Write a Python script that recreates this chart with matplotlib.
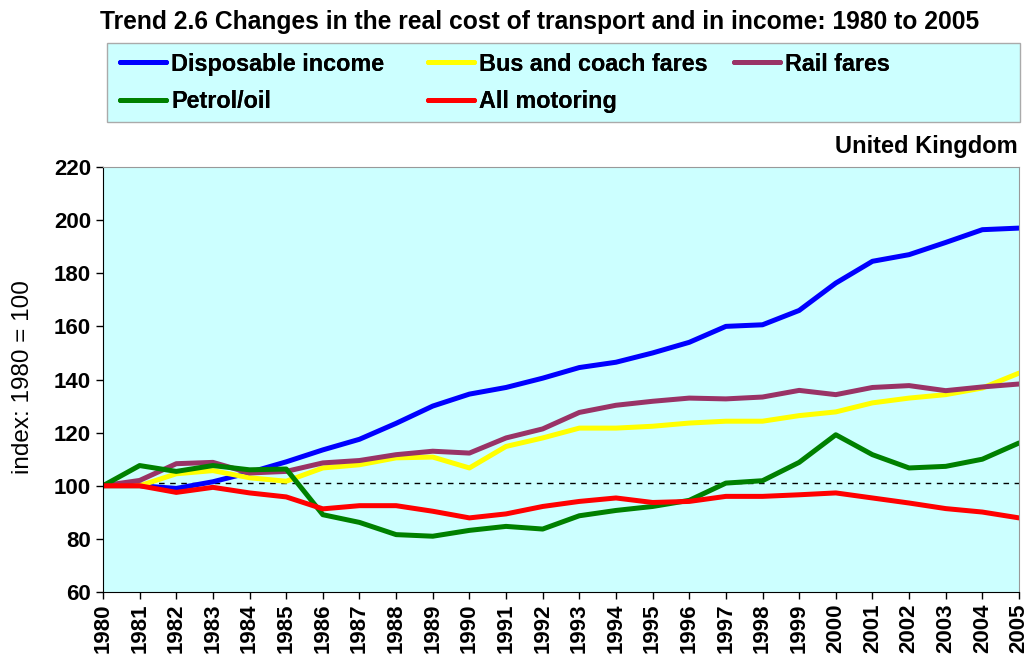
import matplotlib
matplotlib.use("Agg")
import matplotlib.pyplot as plt
from matplotlib.patches import Rectangle

plt.rcParams['font.family'] = ['Liberation Sans', 'DejaVu Sans']

years = list(range(1980, 2006))
disposable_income = [100, 100, 99, 101.5, 105, 109, 113.5, 117.5, 123.5, 130, 134.5, 137, 140.5,
                     144.5, 146.5, 150, 154, 160, 160.6, 166, 176.3, 184.5, 187, 191.6, 196.4, 197]
bus_coach = [100, 100, 104.5, 105.7, 103, 101.7, 106.7, 107.9, 110.5, 110.8, 106.7, 114.8, 118,
             121.7, 121.7, 122.4, 123.6, 124.3, 124.3, 126.4, 127.8, 131.2, 133, 134.3, 136.8, 142.4]
rail_fares = [100, 102, 108.3, 108.8, 104.8, 105.4, 108.6, 109.5, 111.7, 113, 112.3, 118, 121.4,
              127.6, 130.3, 131.8, 133, 132.7, 133.4, 135.9, 134.3, 137, 137.7, 135.8, 137.2, 138.3]
petrol_oil = [100, 107.6, 105.4, 107.6, 106, 106.3, 89.1, 86.2, 81.6, 81, 83.2, 84.7, 83.7,
              88.7, 90.7, 92.2, 94.5, 101, 101.9, 108.8, 119.2, 111.7, 106.7, 107.3, 110, 116.1]
all_motoring = [100, 100, 97.5, 99.4, 97.3, 95.8, 91.3, 92.5, 92.5, 90.4, 87.9, 89.4, 92.2,
                94.1, 95.4, 93.7, 94.1, 96, 96, 96.6, 97.3, 95.4, 93.5, 91.4, 90.1, 87.9]

series = [
    ("Disposable income", disposable_income, "#0000FF"),
    ("Bus and coach fares", bus_coach, "#FFFF00"),
    ("Rail fares", rail_fares, "#993366"),
    ("Petrol/oil", petrol_oil, "#008000"),
    ("All motoring", all_motoring, "#FF0000"),
]

W, H = 1029, 659
bg = "#CCFFFF"
fig = plt.figure(figsize=(W / 100, H / 100), dpi=100)
ax = fig.add_axes([103 / W, 1 - 592 / H, 916 / W, 425 / H])
ax.set_facecolor(bg)

handles = {}
for name, vals, col in series:
    h, = ax.plot(years, vals, color=col, lw=3.6, label=name, solid_capstyle="round")
    handles[name] = h

ax.axhline(101, color="black", lw=1, ls=(0, (4, 4)), zorder=1.5)

ax.set_xlim(1980, 2005)
ax.set_ylim(60, 220)
ax.set_xticks(years)
ax.set_xticklabels([str(y) for y in years], rotation=90, fontsize=16, fontweight="bold")
ax.set_yticks(range(60, 221, 20))
ax.set_yticklabels([str(v) for v in range(60, 221, 20)], fontsize=16, fontweight="bold")
ax.tick_params(direction="out", length=5, width=1)
ax.set_ylabel("index: 1980 = 100", fontsize=17.5)
ax.yaxis.set_label_coords((34 - 103) / 916, 0.506)
for s in ("top", "right"):
    ax.spines[s].set_color("#999999")

fig.text(540 / W, 1 - 22 / H,
         "Trend 2.6 Changes in the real cost of transport and in income: 1980 to 2005",
         ha="center", va="center", fontsize=17.7, fontweight="bold")
fig.text(1018 / W, 1 - 146 / H, "United Kingdom", ha="right", va="center",
         fontsize=17, fontweight="bold")

# legend box
fig.patches.append(Rectangle((107 / W, 1 - 122 / H), 913 / W, 79 / H,
                             transform=fig.transFigure, facecolor=bg, edgecolor="#AAAAAA", lw=1))
columns = [(108, ["Disposable income", "Petrol/oil"]),
           (416, ["Bus and coach fares", "All motoring"]),
           (722, ["Rail fares"])]
for x0, names in columns:
    leg = fig.legend([handles[n] for n in names], names, frameon=False,
                     loc="upper left", bbox_to_anchor=(x0 / W, 1 - 41 / H), borderpad=0,
                     prop={"size": 16.8, "weight": "bold"}, handlelength=2.0, handletextpad=0.2,
                     labelspacing=0.62)
    fig.add_artist(leg)

fig.savefig("out.png", dpi=100)
